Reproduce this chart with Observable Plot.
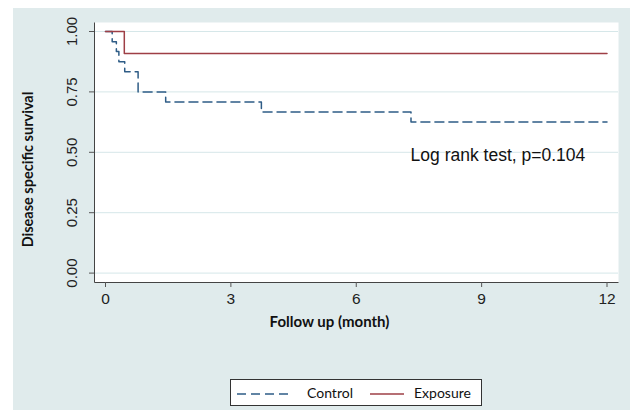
<!DOCTYPE html>
<html>
<head>
<meta charset="utf-8">
<script src="https://cdn.jsdelivr.net/npm/d3@7"></script>
<script src="https://cdn.jsdelivr.net/npm/@observablehq/plot@0.6"></script>
<style>
  html, body { margin: 0; padding: 0; background: #ffffff; }
  #wrap { position: relative; width: 630px; height: 410px; overflow: hidden; }
  #bg { position: absolute; left: 13px; top: 8px; right: 0; bottom: 0; background: #e0ebec; }
  #chart { position: absolute; left: 0; top: 0; }
  #legend { position: absolute; left: 230px; top: 379px; width: 250px; height: 25px;
            background: #fff; border: 1px solid #333; font-family: Lato, "Open Sans", sans-serif;
            font-size: 14px; color: #111; }
  #legend .item { position: absolute; top: 0; height: 25px; display: flex; align-items: center; }
  #legend svg { display: block; }
</style>
</head>
<body>
<div id="wrap">
  <div id="bg"></div>
  <div id="chart"></div>
  <div id="legend"></div>
</div>
<script>
// ---- Data ----
const controlTime = [0, 0.16, 0.26, 0.32, 0.46, 0.78, 1.44, 3.73, 7.31, 12];
const controlSurv = [1, 0.958, 0.917, 0.875, 0.833, 0.75, 0.708, 0.667, 0.625, 0.625];
const exposureTime = [0, 0.45, 12];
const exposureSurv = [1, 0.909, 0.909];
const xTicks = [0, 3, 6, 9, 12];
const yTicks = [0, 0.25, 0.5, 0.75, 1];
const seriesNames = ["Control", "Exposure"];
const annotationText = ["Log rank test, p=0.104"];
const annotationX = [7.3];
const annotationY = [0.487];
const xTitle = "Follow up (month)";
const yTitle = "Disease specific survival";

const colControl = "#2e5c86";
const colExposure = "#9e3f46";

const control = controlTime.map((t, i) => ({t, s: controlSurv[i]}));
const exposure = exposureTime.map((t, i) => ({t, s: exposureSurv[i]}));
const annotation = annotationText.map((label, i) => ({label, x: annotationX[i], y: annotationY[i]}));
const fmtY = d3.format(".2f");

const W = 630, H = 372, mL = 94, mR = 12, mT = 22, mB = 90;
const fw = W - mL - mR, fh = H - mT - mB;

const chart = Plot.plot({
  width: W, height: H,
  marginLeft: mL, marginRight: mR, marginTop: mT, marginBottom: mB,
  style: {background: "transparent", fontFamily: "'Liberation Sans', Arial, sans-serif", fontSize: "15.5px", color: "#222"},
  x: {domain: [0, 12], insetLeft: 11, insetRight: 11.5},
  y: {domain: [0, 1], insetTop: 9, insetBottom: 9.4},
  marks: [
    Plot.frame({fill: "white", stroke: null}),
    Plot.gridY(yTicks, {stroke: "#d6e7e9", strokeOpacity: 1, strokeWidth: 1}),
    Plot.frame({stroke: "#444", strokeWidth: 1, strokeDasharray: `0,${fw + fh},${fw + fh}`}),
    Plot.axisX(xTicks, {tickSize: 5, tickPadding: 5, label: null, stroke: "#555", fill: "#222", fontSize: 15.5}),
    Plot.axisY(yTicks, {tickSize: 5, text: null, label: null, stroke: "#555"}),
    Plot.text(yTicks, {y: d => d, frameAnchor: "left", text: d => fmtY(d), rotate: -90, dx: -22,
      textAnchor: "middle", lineAnchor: "middle", fontSize: 15, fill: "#222"}),
    Plot.line(control, {x: "t", y: "s", curve: "step-after", stroke: colControl, strokeWidth: 1.5, strokeDasharray: "9,5"}),
    Plot.line(exposure, {x: "t", y: "s", curve: "step-after", stroke: colExposure, strokeWidth: 1.5}),
    Plot.text(annotation, {x: "x", y: "y", text: "label", textAnchor: "start", fontSize: 17.5, fill: "#111"}),
    Plot.text([xTitle], {frameAnchor: "bottom", text: d => d, dy: 40, dx: -27, lineAnchor: "middle",
      fontFamily: "Lato, 'Open Sans', sans-serif", fontWeight: "bold", fontSize: 15, fill: "#111"}),
    Plot.text([yTitle], {frameAnchor: "left", text: d => d, rotate: -90, dx: -66, dy: 17,
      textAnchor: "middle", lineAnchor: "middle",
      fontFamily: "Lato, 'Open Sans', sans-serif", fontWeight: "bold", fontSize: 14.5, fill: "#111"})
  ]
});
document.getElementById("chart").appendChild(chart);

// ---- Legend (below the SVG) ----
const legend = document.getElementById("legend");
const items = [
  {name: seriesNames[0], color: colControl, dash: "9,5", left: 6, lineW: 52, gap: 18},
  {name: seriesNames[1], color: colExposure, dash: null, left: 139, lineW: 34, gap: 10}
];
items.forEach(it => {
  const div = document.createElement("div");
  div.className = "item";
  div.style.left = it.left + "px";
  const s = d3.create("svg").attr("width", it.lineW).attr("height", 10);
  s.append("line").attr("x1", 0).attr("x2", it.lineW).attr("y1", 6).attr("y2", 6)
    .attr("stroke", it.color).attr("stroke-width", 1.5)
    .attr("stroke-dasharray", it.dash);
  div.appendChild(s.node());
  const span = document.createElement("span");
  span.textContent = it.name;
  span.style.marginLeft = it.gap + "px";
  div.appendChild(span);
  legend.appendChild(div);
});
</script>
</body>
</html>
